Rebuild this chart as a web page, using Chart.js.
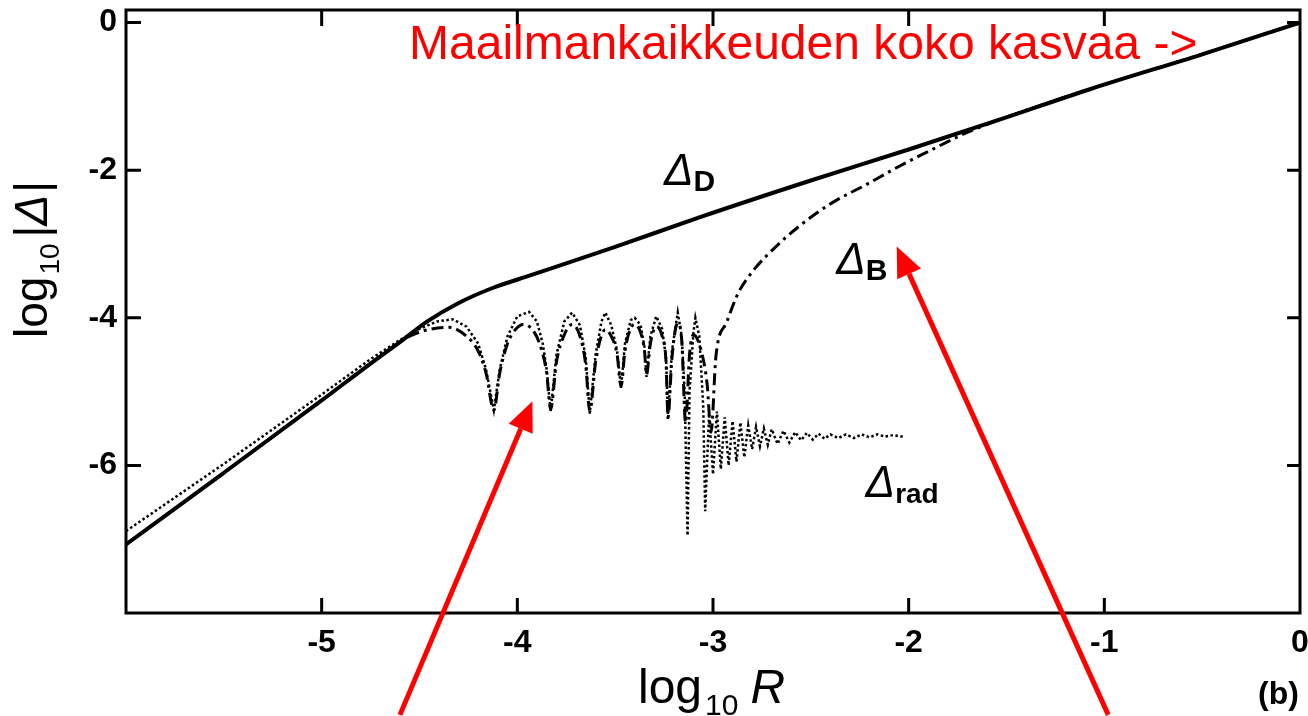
<!DOCTYPE html>
<html>
<head>
<meta charset="utf-8">
<script src="https://cdn.jsdelivr.net/npm/chart.js@4.4.1/dist/chart.umd.min.js"></script>
<style>
  html, body { margin: 0; padding: 0; background: #fff; }
  #wrap { width: 1308px; height: 716px; }
</style>
</head>
<body>
<div id="wrap"><canvas id="chart" width="1308" height="716"></canvas></div>
<script>
// axis ticks
const xTicks = [-5, -4, -3, -2, -1, 0];
const yTicks = [0, -2, -4, -6];

// Delta_D (solid)
const dD_logR = [-6, -5.5, -5, -4.75, -4.6, -4.46, -4.3, -4.13, -3.95, -3.5, -3.07, -2.5, -2.0, -1.54, -1.07, -0.5, 0];
const dD_val  = [-7.07, -6.1, -5.12, -4.62, -4.33, -4.05, -3.8, -3.6, -3.44, -3.04, -2.64, -2.14, -1.72, -1.32, -0.9, -0.43, 0];

// Delta_B (dash-dot)
const dB_logR = [-6, -5.5, -5, -4.75, -4.6, -4.55,
  -4.47, -4.35, -4.26, -4.2, -4.16, -4.12,
  -4.09, -4.05, -4.01, -3.97, -3.92, -3.88, -3.85, -3.83,
  -3.8, -3.76, -3.72, -3.68, -3.65, -3.63,
  -3.6, -3.57, -3.55, -3.52, -3.49, -3.47,
  -3.45, -3.42, -3.40, -3.37, -3.35, -3.34,
  -3.32, -3.29, -3.26, -3.24, -3.23,
  -3.21, -3.18, -3.16, -3.14,
  -3.12, -3.10, -3.06, -3.03, -3.01,
  -2.985, -2.93, -2.87, -2.8, -2.73, -2.56, -2.39, -2.22, -2.05, -1.88, -1.71, -1.54, -1.07, -0.5, 0];
const dB_val = [-7.07, -6.1, -5.12, -4.62, -4.33, -4.25,
  -4.17, -4.13, -4.25, -4.45, -4.75, -5.25,
  -4.75, -4.35, -4.16, -4.09, -4.17, -4.4, -4.75, -5.24,
  -4.6, -4.23, -4.09, -4.25, -4.65, -5.27,
  -4.6, -4.24, -4.16, -4.25, -4.5, -4.93,
  -4.45, -4.14, -4.09, -4.2, -4.45, -4.77,
  -4.35, -4.12, -4.25, -4.6, -5.35,
  -4.55, -4.07, -4.3, -5.42,
  -4.5, -4.23, -4.45, -4.9, -5.55,
  -4.52, -4.06, -3.66, -3.38, -3.17, -2.76, -2.44, -2.2, -1.95, -1.72, -1.5, -1.32, -0.9, -0.43, 0];

// Delta_rad (dotted)
const dR_logR = [-6, -5.5, -5, -4.75, -4.6, -4.5, -4.41, -4.33, -4.26, -4.2, -4.16, -4.12,
  -4.09, -4.05, -4.0, -3.94, -3.9, -3.87, -3.85, -3.83,
  -3.8, -3.76, -3.72, -3.68, -3.65, -3.63,
  -3.6, -3.57, -3.55, -3.52, -3.49, -3.47,
  -3.45, -3.42, -3.40, -3.37, -3.35, -3.34,
  -3.32, -3.29, -3.26, -3.24, -3.23,
  -3.21, -3.18, -3.16, -3.145, -3.13,
  -3.12, -3.10, -3.09, -3.07, -3.05, -3.04,
  -3.02, -3.0, -2.98, -2.96, -2.94, -2.92, -2.90, -2.88, -2.86, -2.84, -2.82, -2.80,
  -2.78, -2.76, -2.74, -2.72, -2.70, -2.67, -2.64, -2.61, -2.58, -2.55, -2.52, -2.49,
  -2.46, -2.43, -2.40, -2.36, -2.32, -2.28, -2.24, -2.20, -2.16, -2.12, -2.08, -2.04, -2.02];
const dR_val = [-6.89, -5.98, -5.04, -4.56, -4.3, -4.15, -4.05, -4.02, -4.12, -4.35, -4.7, -5.25,
  -4.7, -4.25, -3.98, -3.92, -4.05, -4.35, -4.7, -5.27,
  -4.5, -4.05, -3.93, -4.1, -4.55, -5.3,
  -4.5, -4.05, -3.93, -4.1, -4.45, -4.95,
  -4.35, -4.03, -4.0, -4.1, -4.4, -4.8,
  -4.25, -3.98, -4.15, -4.55, -5.38,
  -4.45, -3.93, -4.25, -5.0, -6.95,
  -5.0, -4.2, -4.0, -4.25, -5.2, -6.62,
  -5.3, -6.12, -5.27, -6.05, -5.35, -6.0, -5.4, -5.95, -5.42, -5.89, -5.46, -5.78,
  -5.48, -5.74, -5.5, -5.72, -5.51, -5.71, -5.53, -5.69, -5.55, -5.66, -5.56, -5.65,
  -5.57, -5.64, -5.58, -5.63, -5.58, -5.63, -5.58, -5.62, -5.58, -5.61, -5.59, -5.61, -5.6];

const pts = (xs, ys) => xs.map((x, i) => ({ x: x, y: ys[i] }));

const FONT = "'Liberation Sans', Arial, sans-serif";

function arrow(ctx, x0, y0, x1, y1) {
    const a = Math.atan2(y1 - y0, x1 - x0);
    const len = 30, half = 13;
    const bx = x1 - len * Math.cos(a), by = y1 - len * Math.sin(a);
    ctx.beginPath();
    ctx.moveTo(x0, y0);
    ctx.lineTo(bx, by);
    ctx.stroke();
    ctx.beginPath();
    ctx.moveTo(x1, y1);
    ctx.lineTo(bx + half * Math.sin(a), by - half * Math.cos(a));
    ctx.lineTo(bx - half * Math.sin(a), by + half * Math.cos(a));
    ctx.closePath();
    ctx.fill();
}

function deltaLabel(ctx, x, y, sub, subSize) {
    ctx.font = "italic 44px " + FONT;
    ctx.fillText("\u0394", x, y);
    const w = ctx.measureText("\u0394").width;
    ctx.font = "bold " + subSize + "px " + FONT;
    ctx.fillText(sub, x + w, y + 6);
}

const decorations = {
    id: "decorations",
    afterDraw(chart) {
        const { ctx, chartArea: a, scales: { x, y } } = chart;
        ctx.save();

        // frame
        ctx.strokeStyle = "#000";
        ctx.lineWidth = 3;
        ctx.strokeRect(a.left, a.top, a.right - a.left, a.bottom - a.top);

        // inward ticks on all four sides
        ctx.beginPath();
        xTicks.forEach(v => {
            if (v <= x.min || v >= x.max) return;
            const px = x.getPixelForValue(v);
            ctx.moveTo(px, a.bottom); ctx.lineTo(px, a.bottom - 15);
            ctx.moveTo(px, a.top); ctx.lineTo(px, a.top + 16);
        });
        yTicks.forEach(v => {
            const py = y.getPixelForValue(v);
            ctx.moveTo(a.left, py); ctx.lineTo(a.left + 15, py);
            ctx.moveTo(a.right, py); ctx.lineTo(a.right - 13, py);
        });
        ctx.stroke();

        // series labels
        ctx.fillStyle = "#000";
        ctx.textBaseline = "alphabetic";
        ctx.textAlign = "left";
        deltaLabel(ctx, x.getPixelForValue(-3.25), y.getPixelForValue(-2.2), "D", 30);
        deltaLabel(ctx, x.getPixelForValue(-2.37), y.getPixelForValue(-3.41), "B", 30);
        deltaLabel(ctx, x.getPixelForValue(-2.22), y.getPixelForValue(-6.43), "rad", 28);

        // axis titles
        ctx.font = "48px " + FONT;
        let tx = 638, ty = 703;
        ctx.fillText("log", tx, ty);
        tx += ctx.measureText("log").width + 3;
        ctx.font = "30px " + FONT;
        ctx.fillText("10", tx, ty + 12);
        tx += ctx.measureText("10").width + 12;
        ctx.font = "italic 48px " + FONT;
        ctx.fillText("R", tx, ty);

        ctx.save();
        ctx.translate(47, 338);
        ctx.rotate(-Math.PI / 2);
        let rx = 0;
        ctx.font = "46px " + FONT;
        ctx.fillText("log", rx, 0);
        rx += ctx.measureText("log").width + 2;
        ctx.font = "28px " + FONT;
        ctx.fillText("10", rx, 12);
        rx += ctx.measureText("10").width + 6;
        ctx.font = "46px " + FONT;
        ctx.fillText("|", rx, 0);
        rx += ctx.measureText("|").width;
        ctx.font = "italic 46px " + FONT;
        ctx.fillText("\u0394", rx, 0);
        rx += ctx.measureText("\u0394").width + 2;
        ctx.font = "46px " + FONT;
        ctx.fillText("|", rx, 0);
        ctx.restore();

        ctx.font = "bold 32px " + FONT;
        ctx.fillText("(b)", 1258, 704);

        // red annotation
        ctx.fillStyle = "#ff0000";
        ctx.font = "48px " + FONT;
        ctx.fillText("Maailmankaikkeuden koko kasvaa ->", 409, 59);

        ctx.strokeStyle = "#ff0000";
        ctx.lineWidth = 5;
        arrow(ctx, x.getPixelForValue(-4.60), y.getPixelForValue(-9.38),
                   x.getPixelForValue(-3.923), y.getPixelForValue(-5.13));
        arrow(ctx, x.getPixelForValue(-0.98), y.getPixelForValue(-9.38),
                   x.getPixelForValue(-2.061), y.getPixelForValue(-3.035));
        ctx.restore();
    }
};

const ctx = document.getElementById("chart").getContext("2d");
new Chart(ctx, {
    type: "line",
    data: {
        datasets: [
            {
                label: "Delta_rad",
                data: pts(dR_logR, dR_val),
                borderColor: "#000",
                borderWidth: 2.5,
                borderDash: [2.5, 2.5],
                pointRadius: 0,
                tension: 0
            },
            {
                label: "Delta_B",
                data: pts(dB_logR, dB_val),
                borderColor: "#000",
                borderWidth: 3,
                borderDash: [12, 5, 3, 5],
                pointRadius: 0,
                cubicInterpolationMode: "monotone"
            },
            {
                label: "Delta_D",
                data: pts(dD_logR, dD_val),
                borderColor: "#000",
                borderWidth: 4,
                pointRadius: 0,
                cubicInterpolationMode: "monotone"
            }
        ]
    },
    options: {
        responsive: false,
        animation: false,
        devicePixelRatio: 1,
        layout: { padding: { top: 10, right: 8, left: 0, bottom: 0 } },
        plugins: { legend: { display: false }, tooltip: { enabled: false } },
        scales: {
            x: {
                type: "linear",
                min: -6,
                max: 0,
                afterBuildTicks: s => { s.ticks = xTicks.map(v => ({ value: v })); },
                afterFit: s => { s.height = 103; s.paddingLeft = 0; s.paddingRight = 0; },
                grid: { display: false, drawTicks: false },
                border: { display: false },
                ticks: {
                    padding: 11,
                    color: "#000",
                    font: { family: FONT, size: 32, weight: "bold" },
                    maxRotation: 0,
                    callback: v => String(v)
                }
            },
            y: {
                type: "linear",
                min: -8,
                max: 0.17,
                afterBuildTicks: s => { s.ticks = yTicks.map(v => ({ value: v })); },
                afterFit: s => { s.width = 126; s.paddingTop = 0; s.paddingBottom = 0; },
                grid: { display: false, drawTicks: false },
                border: { display: false },
                ticks: {
                    padding: 9,
                    color: "#000",
                    font: { family: FONT, size: 32, weight: "bold" },
                    callback: v => String(v)
                }
            }
        }
    },
    plugins: [decorations]
});
</script>
</body>
</html>
